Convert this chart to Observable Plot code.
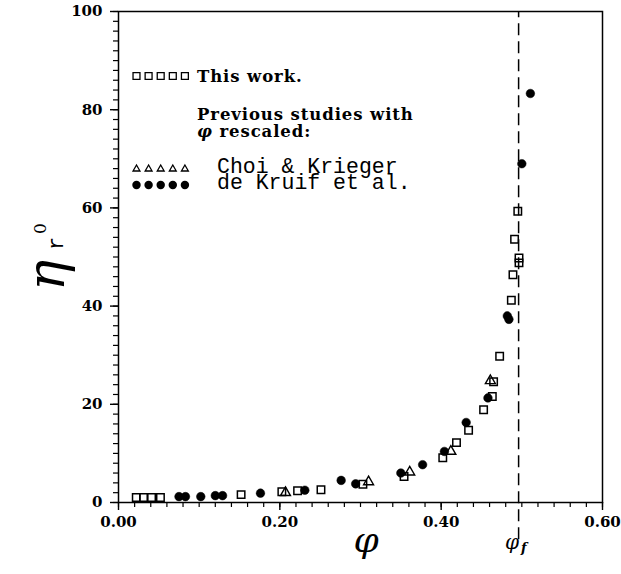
<!DOCTYPE html>
<html><head><meta charset="utf-8">
<script src="https://cdn.jsdelivr.net/npm/d3@7"></script>
<script src="https://cdn.jsdelivr.net/npm/@observablehq/plot@0.6"></script>
<style>body{margin:0;background:#fff} #chart{width:621px;height:574px}</style>
</head><body><div id="chart"></div>
<script>
// This work (open squares)
const thisWorkPhi = [0.022,0.031,0.041,0.052,0.152,0.2025,0.222,0.251,0.303,0.354,0.402,0.419,0.434,0.4526,0.4634,0.465,0.4725,0.487,0.489,0.4965,0.4965,0.491,0.495];
const thisWorkEta = [1.0,1.0,1.0,1.0,1.6,2.2,2.4,2.6,3.7,5.3,9.1,12.2,14.7,18.9,21.6,24.6,29.8,41.2,46.4,49.8,48.8,53.6,59.3];
// Choi & Krieger (open triangles)
const choiPhi = [0.207,0.310,0.361,0.412,0.461];
const choiEta = [2.0,4.2,6.2,10.4,24.8];
// de Kruif et al. (filled circles)
const kruifPhi = [0.075,0.083,0.102,0.120,0.129,0.176,0.231,0.276,0.294,0.350,0.377,0.404,0.431,0.458,0.482,0.484,0.500,0.5106];
const kruifEta = [1.2,1.2,1.2,1.4,1.4,1.9,2.5,4.5,3.8,6.0,7.7,10.4,16.3,21.3,38.0,37.3,69.0,83.3];
const phiF = 0.496;
const xTicks = [0, 0.2, 0.4, 0.6];
const yTicks = [0, 20, 40, 60, 80, 100];
const xMinor = d3.range(0, 31).map(i => i * 0.02);
const yMinor = d3.range(0, 51).map(i => i * 2);

const sq = thisWorkPhi.map((p, i) => ({phi: p, eta: thisWorkEta[i]}));
const tri = choiPhi.map((p, i) => ({phi: p, eta: choiEta[i]}));
const circ = kruifPhi.map((p, i) => ({phi: p, eta: kruifEta[i]}));

const serif = "DejaVu Serif";
const plot = Plot.plot({
  width: 621, height: 574,
  marginLeft: 118, marginRight: 19, marginTop: 11, marginBottom: 72,
  x: {domain: [0, 0.6], axis: null, label: null},
  y: {domain: [0, 100], axis: null, label: null},
  style: {fontFamily: serif, background: "white", color: "black"},
  marks: [
    Plot.frame({stroke: "black", strokeWidth: 1.5}),
    Plot.axisX({anchor: "bottom", ticks: xMinor, tickSize: 5, tickFormat: () => "", label: null, strokeWidth: 1.2}),
    Plot.axisX({anchor: "bottom", ticks: xTicks, tickSize: 8, tickPadding: 6, strokeWidth: 1.4, label: null,
      tickFormat: d3.format(".2f"), fontSize: 15, fontWeight: "bold", fontFamily: serif}),
    Plot.axisY({anchor: "left", ticks: yMinor, tickSize: 5, tickFormat: () => "", label: null, strokeWidth: 1.2}),
    Plot.axisY({anchor: "left", ticks: yTicks, tickSize: 8, tickPadding: 8, strokeWidth: 1.4, label: null,
      tickFormat: d3.format("d"), fontSize: 15, fontWeight: "bold", fontFamily: serif}),
    Plot.ruleX([phiF], {y1: -7.6, y2: 100, stroke: "black", strokeWidth: 1.5, strokeDasharray: "12,6"}),
    Plot.dot(circ, {x: "phi", y: "eta", symbol: "circle", r: 4.3, fill: "black", stroke: "black", strokeWidth: 0.5}),
    Plot.dot(sq, {x: "phi", y: "eta", symbol: "square", r: 4.2, fill: "none", stroke: "black", strokeWidth: 1.5}),
    Plot.dot(tri, {x: "phi", y: "eta", symbol: "triangle", r: 3.7, fill: "none", stroke: "black", strokeWidth: 1.4})
  ]
});
document.getElementById("chart").appendChild(plot);

// Overlay: axis titles and legend
const svg = d3.select(plot);
const g = svg.append("g").attr("text-anchor", "start");

// y-axis title  eta_r^0 (rotated)
const yt = g.append("g").attr("transform", "translate(64,291) rotate(-90)");
yt.append("text").attr("x", 0).attr("y", 0).attr("font-family", serif).attr("font-style", "italic")
  .attr("font-size", 52).text("η");
yt.append("text").attr("x", 41).attr("y", -1).attr("font-family", "Liberation Mono").attr("font-size", 22).text("r");
yt.append("text").attr("x", 57).attr("y", -18).attr("font-family", serif).attr("font-size", 17).text("0");

// x-axis title phi
g.append("text").attr("x", 366).attr("y", 552).attr("text-anchor", "middle").attr("font-family", serif)
  .attr("font-style", "italic").attr("font-size", 36).text("φ");
// phi_f label
g.append("text").attr("x", 505).attr("y", 549).attr("font-family", serif).attr("font-style", "italic")
  .attr("font-size", 20).text("φ");
g.append("text").attr("x", 521).attr("y", 552).attr("font-family", serif).attr("font-style", "italic")
  .attr("font-size", 13).attr("font-weight", "bold").text("f");

// Legend
const legX = d3.range(5).map(i => 136.5 + i * 12.1);
const sqSym = d3.symbol(d3.symbolSquare, 48)();
const triSym = d3.symbol(d3.symbolTriangle2 || d3.symbolTriangle, 34)();
const cirSym = d3.symbol(d3.symbolCircle, 56)();
legX.forEach(x => {
  g.append("path").attr("d", sqSym).attr("transform", `translate(${x},76)`).attr("fill", "none").attr("stroke", "black").attr("stroke-width", 1.3);
  g.append("path").attr("d", triSym).attr("transform", `translate(${x},169)`).attr("fill", "none").attr("stroke", "black").attr("stroke-width", 1.3);
  g.append("path").attr("d", cirSym).attr("transform", `translate(${x},185)`).attr("fill", "black");
});
const bold = (t, x, y) => g.append("text").attr("x", x).attr("y", y).attr("font-family", serif)
  .attr("font-weight", "bold").attr("font-size", 16.5).attr("letter-spacing", 0.9).text(t);
bold("This work.", 197, 82);
bold("Previous studies with", 197, 120);
const r2 = g.append("text").attr("x", 197).attr("y", 137).attr("font-family", serif).attr("font-weight", "bold")
  .attr("font-size", 16.5).attr("letter-spacing", 0.9);
r2.append("tspan").attr("font-style", "italic").text("φ");
r2.append("tspan").text(" rescaled:");
const mono = (t, x, y) => g.append("text").attr("x", x).attr("y", y).attr("font-family", "Liberation Mono")
  .attr("font-size", 21.5).text(t);
mono("Choi & Krieger", 217, 173);
mono("de Kruif et al.", 217, 189);
</script>
</body></html>
